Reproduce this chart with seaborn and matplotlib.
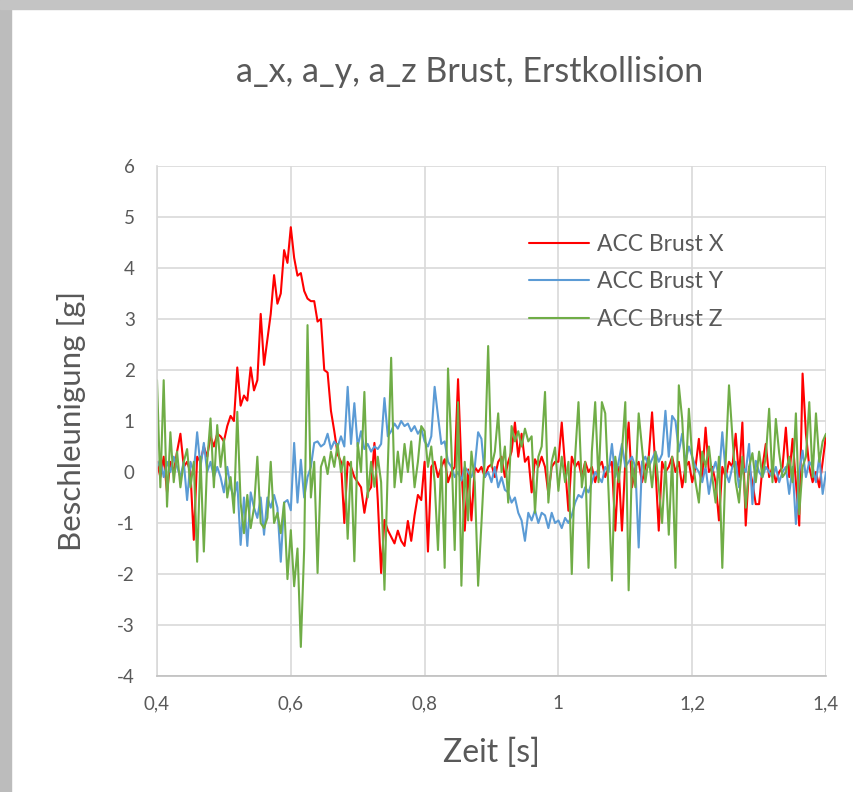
import matplotlib
matplotlib.use("Agg")
import matplotlib.pyplot as plt
import numpy as np
import pandas as pd
import seaborn as sns
from matplotlib.patches import Rectangle
from matplotlib.ticker import FuncFormatter, MultipleLocator

# Zeitachse: 0,400 s bis 1,400 s, Schritt 5 ms
t_start, t_step, n_samples = 0.4, 0.005, 201

acc_x = [
    0.2, -0.1, 0.3, -0.4, 0.2, 0.0, 0.4, 0.75, 0.1, 0.2,
    0.0, -1.33, 0.3, 0.2, 0.5, 0.3, 0.7, 0.5, 0.75, 0.7,
    0.6, 0.9, 1.1, 1.0, 2.05, 1.3, 1.5, 1.4, 2.05, 1.6,
    1.8, 3.1, 2.1, 2.6, 3.1, 3.86, 3.3, 3.5, 4.35, 4.1,
    4.8, 4.2, 3.85, 3.9, 3.55, 3.4, 3.35, 3.35, 2.95, 3.0,
    2.0, 1.95, 1.2, 0.8, 0.35, 0.2, -1.0, 0.2, 0.1, -0.1,
    -0.2, -0.3, -0.8, -0.4, -0.3, 0.57, -0.55, -1.98, -0.94, -1.14,
    -1.27, -1.4, -1.15, -1.35, -1.45, -0.96, -1.35, -0.85, -0.45, -0.55,
    0.2, -1.56, 0.1, 0.2, -0.1, 0.1, 0.25, -0.2, 0.0, 0.1,
    1.82, 0.1, -1.15, 0.05, -0.95, 0.1, 0.0, 0.1, -0.1, 0.1,
    0.15, -0.1, 0.2, 0.3, -0.1, 0.2, 0.4, 0.97, 0.3, 0.75,
    0.2, 0.3, -0.4, 0.25, 0.1, 0.3, 0.1, -0.43, 0.1, 0.2,
    0.2, 0.97, 0.1, -0.76, 0.3, 0.1, 0.2, -0.1, 0.2, 0.0,
    0.1, -0.2, 0.1, 0.2, -0.1, 0.1, 0.2, -1.15, 0.1, -1.15,
    0.2, 0.97, -0.3, 0.1, 0.2, -0.2, 0.1, 0.3, 1.17, 0.1,
    -1.15, 0.2, 0.0, 0.1, 0.3, 0.0, 0.2, -0.3, 0.1, 0.2,
    -0.2, 0.1, 0.65, -0.1, 0.87, 0.0, 0.1, -0.2, -0.95, 0.1,
    -0.1, 0.2, 0.1, 0.75, -0.1, 0.97, -1.05, 0.1, -0.2, -0.63,
    -0.63, 0.1, 0.55, -0.1, 0.1, -0.2, 0.0, 0.1, 0.87, -0.1,
    0.65, -0.2, -1.05, 1.93, 0.75, 0.1, -0.2, 0.0, -0.3, 0.2,
    0.72,
]

acc_y = [
    0.1, 0.25, -0.1, 0.2, 0.0, 0.3, 0.1, -0.1, 0.2, -0.55,
    0.2, 0.0, 0.78, 0.1, 0.57, 0.0, 0.2, -0.1, 0.1, -0.1,
    -0.4, 0.1, -0.3, -0.5, -0.2, -1.43, -0.5, -1.45, -0.4, -0.7,
    -0.9, -0.5, -1.23, -0.5, -0.7, -0.45, -0.7, -1.76, -0.6, -0.55,
    -0.75, 0.57, -0.6, 0.24, -0.5, -0.1, 0.1, 0.57, 0.6, 0.5,
    0.55, 0.75, 0.45, 0.6, 0.5, 0.7, 0.5, 1.67, 0.55, 1.35,
    0.5, 0.8, 0.45, 0.55, 0.4, 0.5, 0.45, 0.55, 1.45, 0.7,
    0.8, 0.95, 0.85, 1.0, 0.9, 0.95, 0.8, 0.9, 0.75, 0.85,
    0.6, 0.5, 0.7, 1.67, 1.1, 0.55, 0.6, 0.2, 0.1, -0.1,
    0.0, -0.17, 0.1, 0.0, -0.1, 0.1, 0.78, 0.65, -0.1, 0.0,
    -0.2, 0.1, -0.3, -0.1, -0.35, -0.4, -0.6, -0.5, -0.8, -0.95,
    -1.35, -0.8, -0.95, -0.75, -1.0, -0.8, -0.85, -1.1, -0.8, -1.0,
    -0.95, -1.1, -0.9, -1.0, -0.85, -0.6, -0.45, -0.5, -0.3, -0.4,
    -0.2, 0.0, -0.1, -0.2, 0.1, 0.0, 0.55, -0.1, 0.2, 0.55,
    0.1, 0.2, 0.3, 0.1, -1.48, 0.2, 0.3, 0.1, 0.25, 0.4,
    0.2, 0.35, 1.2, 0.3, 1.1, 1.0, 0.4, 0.75, 0.2, 0.5,
    0.3, 0.1, 0.0, -0.2, 0.1, -0.43, 0.0, 0.2, -0.1, 0.78,
    0.0, -0.2, 0.1, 0.2, -0.3, 0.1, 0.0, 0.55, -0.63, 0.22,
    0.0, -0.1, 0.1, 0.0, -0.1, 0.1, -0.2, 0.0, 0.1, -0.43,
    0.1, -1.02, 0.0, 0.42, -0.1, 0.2, 0.1, -0.2, 0.3, -0.43,
    0.0,
]

acc_z = [
    1.8, -0.3, 1.8, -0.68, 0.78, -0.2, 0.4, -0.3, 0.2, 0.45,
    -0.3, 0.2, -1.76, 0.3, -1.56, 0.2, 1.05, -0.3, 0.92, 0.1,
    0.65, -0.5, -0.1, -0.8, 1.18, -0.6, -1.2, -0.45, -1.1, -0.7,
    0.3, -1.0, -1.1, -0.9, 0.2, -1.0, -0.8, -1.2, -0.6, -2.1,
    -1.14, -2.24, -1.5, -3.43, -1.5, 2.88, -0.5, 0.2, -1.98, 0.1,
    0.3, -0.04, 0.4, 0.1, 0.55, 0.0, 0.3, -1.31, 0.2, -1.75,
    0.57, 0.0, 1.57, -0.5, 0.2, -0.29, 0.3, -0.2, -2.31, 0.1,
    2.24, -0.3, 0.4, -0.2, 0.55, 0.0, 0.6, -0.3, 0.2, 0.9,
    0.8, 0.1, 0.5, -0.2, -1.53, 0.3, -1.88, 2.03, 0.48, -1.53,
    1.37, -2.23, 0.2, -0.95, 0.4, -0.2, -2.23, -1.0, 0.3, 2.47,
    0.1, 0.4, 1.15, 0.0, 0.5, -0.6, 0.9, 0.6, 0.8, 0.5,
    0.85, 0.6, 0.7, -0.8, 0.3, 0.5, 1.57, -0.6, 0.2, 0.48,
    -0.37, 0.3, -0.2, 0.2, -2.0, 0.3, 1.37, -0.3, 0.2, -1.88,
    0.4, 1.37, -0.2, 1.37, 1.15, -0.4, -2.13, 0.3, -0.2, 0.4,
    1.37, -2.32, 0.2, -0.3, 1.15, 0.48, -0.2, 0.3, -0.3, 0.4,
    -0.3, -1.0, 0.2, -1.23, 0.3, -1.88, 1.7, 1.04, -0.2, 1.24,
    0.3, -0.2, -0.6, 0.4, 0.1, 0.5, -0.1, -0.6, 0.3, -1.88,
    0.2, 1.7, 0.71, -0.2, -0.6, 0.3, -0.7, 0.1, 0.37, -0.2,
    0.4, -0.1, 0.3, 1.24, -0.2, 1.04, 0.37, -0.1, 0.0, 0.3,
    -0.2, 1.15, -0.83, 0.1, 0.3, 1.37, -0.1, 1.15, 0.2, 0.6,
    0.75,
]

series_names = ["ACC Brust X", "ACC Brust Y", "ACC Brust Z"]
series_colors = ["#FF0000", "#5B9BD5", "#70AD47"]
x_ticks = [0.4, 0.6, 0.8, 1.0, 1.2, 1.4]

zeit = t_start + t_step * np.arange(n_samples)
df = pd.concat([
    pd.DataFrame({"Zeit": zeit, "Wert": vals, "Kanal": name})
    for name, vals in zip(series_names, [acc_x, acc_y, acc_z])
], ignore_index=True)

sns.set_theme(style="white")
plt.rcParams["font.family"] = ["Lato", "DejaVu Sans"]
TXT = "#595959"

fig = plt.figure(figsize=(8.54, 7.92), dpi=100)
fig.patch.set_facecolor("white")
# grauer Rand links/oben wie im Screenshot
fig.patches.append(Rectangle((0, 0), 11 / 854, 1, transform=fig.transFigure,
                             color="#bcbcbc", zorder=0))
fig.patches.append(Rectangle((0, 1 - 9 / 792), 1, 9 / 792, transform=fig.transFigure,
                             color="#c4c4c4", zorder=0))

ax = fig.add_axes([157 / 854, 1 - 676 / 792, 669 / 854, 510 / 792])
sns.lineplot(data=df, x="Zeit", y="Wert", hue="Kanal", hue_order=series_names,
             palette=series_colors, estimator=None, sort=False, linewidth=1.5,
             ax=ax)

ax.set_xlim(0.4, 1.4)
ax.set_ylim(-4, 6)
ax.set_xticks(x_ticks)
ax.yaxis.set_major_locator(MultipleLocator(1))
fmt = FuncFormatter(lambda v, _: f"{v:g}".replace(".", ","))
ax.xaxis.set_major_formatter(fmt)
ax.yaxis.set_major_formatter(fmt)
ax.grid(True, color="#d9d9d9", linewidth=1.2)
ax.set_axisbelow(True)
for s in ax.spines.values():
    s.set_visible(False)
ax.spines["bottom"].set_visible(True)
ax.spines["bottom"].set_color("#bfbfbf")
ax.spines["bottom"].set_linewidth(1.2)
ax.spines["left"].set_visible(True)
ax.spines["left"].set_color("#d9d9d9")
ax.spines["left"].set_linewidth(1.2)
ax.tick_params(axis="both", length=0, labelsize=13.5, colors=TXT)
ax.tick_params(axis="x", pad=14)
ax.tick_params(axis="y", pad=16)

ax.set_xlabel("Zeit [s]", fontsize=23, color=TXT, labelpad=18)
ax.set_ylabel("Beschleunigung [g]", fontsize=22.5, color=TXT, labelpad=22)
fig.text(470 / 854, 1 - 72 / 792, "a_x, a_y, a_z Brust, Erstkollision",
         fontsize=24.5, color=TXT, ha="center", va="center")

handles, labels = ax.get_legend_handles_labels()
ax.legend(handles, labels, loc="upper left", bbox_to_anchor=(0.543, 0.885),
          frameon=False, fontsize=16.5, labelcolor=TXT, handlelength=2.6,
          handletextpad=0.35, labelspacing=0.72, borderaxespad=0)

fig.savefig("out.png", dpi=100, facecolor=fig.get_facecolor())
